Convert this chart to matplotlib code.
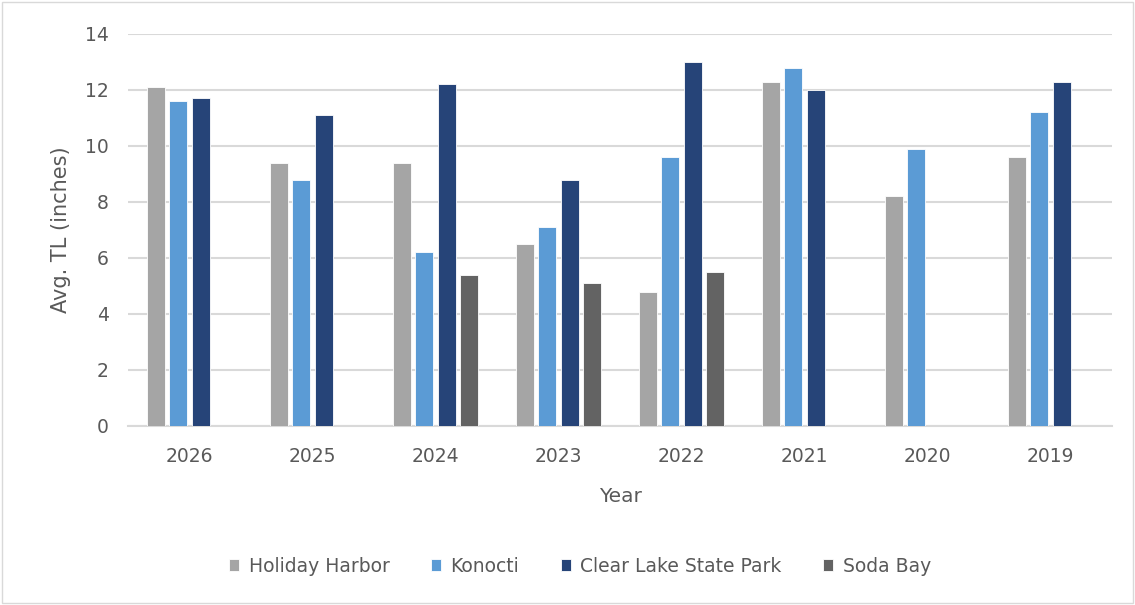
import numpy as np
import matplotlib.pyplot as plt
from matplotlib.patches import Rectangle

plt.rcParams['font.family'] = ['DejaVu Sans']

# ---------------------------
# Data
# ---------------------------
years = ['2026', '2025', '2024', '2023', '2022', '2021', '2020', '2019']
holiday_harbor = [12.1, 9.4, 9.4, 6.5, 4.8, 12.3, 8.2, 9.6]
konocti = [11.6, 8.8, 6.2, 7.1, 9.6, 12.8, 9.9, 11.2]
clear_lake_sp = [11.7, 11.1, 12.2, 8.8, 13.0, 12.0, np.nan, 12.3]
soda_bay = [np.nan, np.nan, 5.4, 5.1, 5.5, np.nan, np.nan, np.nan]

series = [
    ('Holiday Harbor', holiday_harbor, '#A5A5A5'),
    ('Konocti', konocti, '#5B9BD5'),
    ('Clear Lake State Park', clear_lake_sp, '#264478'),
    ('Soda Bay', soda_bay, '#636363'),
]

# ---------------------------
# Plot
# ---------------------------
fig = plt.figure(figsize=(11.35, 6.05), dpi=100)
ax = fig.add_axes([0.1128, 0.2959, 0.867, 0.648])

x = np.arange(len(years))
slot = 0.183
width = 0.146
for i, (name, vals, color) in enumerate(series):
    ax.bar(x + (i - 1.5) * slot, vals, width, color=color, label=name,
           edgecolor='white', linewidth=0.6, zorder=3)

ax.set_xlim(-0.5, len(years) - 0.5)
ax.set_ylim(0, 14)
ax.set_yticks(np.arange(0, 15, 2))
ax.set_xticks(x)
ax.set_xticklabels(years)
ax.grid(axis='y', color='#D9D9D9', linewidth=1.5, zorder=0)
ax.tick_params(length=0, labelsize=13.5, colors='#595959')
ax.tick_params(axis='x', pad=15)
ax.tick_params(axis='y', pad=14)
for s in ['top', 'right', 'left']:
    ax.spines[s].set_visible(False)
ax.spines['bottom'].set_color('#D9D9D9')
ax.spines['bottom'].set_linewidth(1.5)

ax.set_xlabel('Year', fontsize=14.5, color='#595959', labelpad=15)
ax.set_ylabel('Avg. TL (inches)', fontsize=15, color='#595959', labelpad=10)

fig.legend(loc='center', bbox_to_anchor=(0.511, 0.064), ncol=4, frameon=False,
           fontsize=13.5, labelcolor='#595959', handlelength=0.55, handleheight=0.55,
           handletextpad=0.5, columnspacing=2.2)

# outer chart border
fig.patches.append(Rectangle((0.002, 0.003), 0.996, 0.994, transform=fig.transFigure,
                             fill=False, edgecolor='#D9D9D9', linewidth=1))

fig.savefig('out.png', dpi=100)
